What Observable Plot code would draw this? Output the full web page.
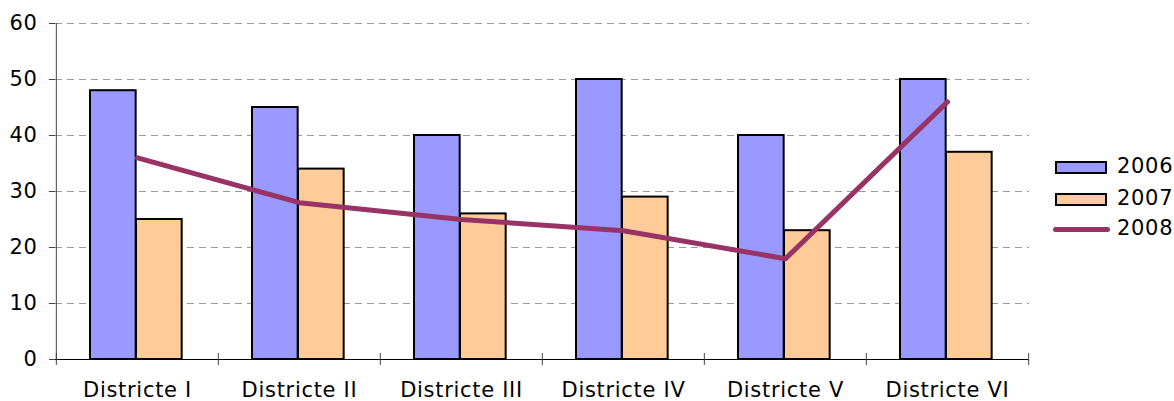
<!DOCTYPE html>
<html>
<head>
<meta charset="utf-8">
<script src="https://cdn.jsdelivr.net/npm/d3@7"></script>
<script src="https://cdn.jsdelivr.net/npm/@observablehq/plot@0.6"></script>
<style>
  html, body { margin: 0; padding: 0; background: #fff; }
  #wrap { position: relative; width: 1174px; height: 401px; overflow: hidden; font-family: "DejaVu Sans", Verdana, sans-serif; }
  #wrap svg text { letter-spacing: 0.7px; }
  .lg { position: absolute; font-size: 21px; color: #000; line-height: 1; letter-spacing: 0.7px; }
  .box { position: absolute; box-sizing: border-box; border: 2px solid #000; }
</style>
</head>
<body>
<div id="wrap"></div>
<script>
const districts = ["Districte I", "Districte II", "Districte III", "Districte IV", "Districte V", "Districte VI"];
const values2006 = [48, 45, 40, 50, 40, 50];
const values2007 = [25, 34, 26, 29, 23, 37];
const values2008 = [36, 28, 25, 23, 18, 46];
const yTicks = [0, 10, 20, 30, 40, 50, 60];
const seriesNames = ["2006", "2007", "2008"];
const seriesColors = ["#9999FF", "#FFCC99", "#993366"];

const rows = districts.map((d, i) => ({district: d, v2006: values2006[i], v2007: values2007[i], v2008: values2008[i]}));

const W = 1174, H = 401;
const mL = 55, mR = 145, mT = 23, mB = 42;
const bw = (W - mL - mR) / districts.length;

const chart = Plot.plot({
  width: W,
  height: H,
  marginLeft: mL,
  marginRight: mR,
  marginTop: mT,
  marginBottom: mB,
  style: {fontFamily: "DejaVu Sans, Verdana, sans-serif", fontSize: "21px", color: "#000", background: "#fff"},
  x: {domain: districts, padding: 0, label: null},
  y: {domain: [0, 60], label: null},
  marks: [
    Plot.gridY(yTicks.filter(t => t > 0), {stroke: "#999", strokeOpacity: 1, strokeDasharray: "7,5"}),
    Plot.barY(rows, {x: "district", y: "v2006", fill: seriesColors[0], stroke: "#000", strokeWidth: 2, insetLeft: 34, insetRight: bw - 80}),
    Plot.barY(rows, {x: "district", y: "v2007", fill: seriesColors[1], stroke: "#000", strokeWidth: 2, insetLeft: 80, insetRight: bw - 126}),
    Plot.lineY(rows, {x: "district", y: "v2008", stroke: seriesColors[2], strokeWidth: 5, strokeLinecap: "round", strokeLinejoin: "round"}),
    Plot.ruleY([0], {stroke: "#000", strokeWidth: 1}),
    Plot.ruleX([districts[0]], {y1: 0, y2: 60, dx: -bw / 2, stroke: "#444", strokeWidth: 1}),
    Plot.ruleX(districts, {y1: 0, y2: 0, dx: -bw / 2, insetTop: -6, insetBottom: -6, stroke: "#444", strokeWidth: 1}),
    Plot.ruleX([districts[districts.length - 1]], {y1: 0, y2: 0, dx: bw / 2, insetTop: -6, insetBottom: -6, stroke: "#444", strokeWidth: 1}),
    Plot.axisY({ticks: yTicks, tickSize: 6, tickPadding: 12, stroke: "#444", label: null}),
    Plot.axisX({tickSize: 0, tickPadding: 23, label: null})
  ]
});

const wrap = document.getElementById("wrap");
wrap.appendChild(chart);

// Legend
const legendTops = [167, 199, 229];
seriesNames.forEach((name, i) => {
  if (i < 2) {
    const b = document.createElement("div");
    b.className = "box";
    b.style.left = "1055px";
    b.style.top = (legendTops[i] - 6) + "px";
    b.style.width = "52px";
    b.style.height = "13px";
    b.style.background = seriesColors[i];
    wrap.appendChild(b);
  } else {
    const l = document.createElement("div");
    l.style.position = "absolute";
    l.style.left = "1053px";
    l.style.top = (legendTops[i] - 2.5) + "px";
    l.style.width = "57px";
    l.style.height = "5px";
    l.style.borderRadius = "3px";
    l.style.background = seriesColors[i];
    wrap.appendChild(l);
  }
  const t = document.createElement("div");
  t.className = "lg";
  t.textContent = name;
  t.style.left = "1117px";
  t.style.top = (legendTops[i] - 11) + "px";
  wrap.appendChild(t);
});
</script>
</body>
</html>
